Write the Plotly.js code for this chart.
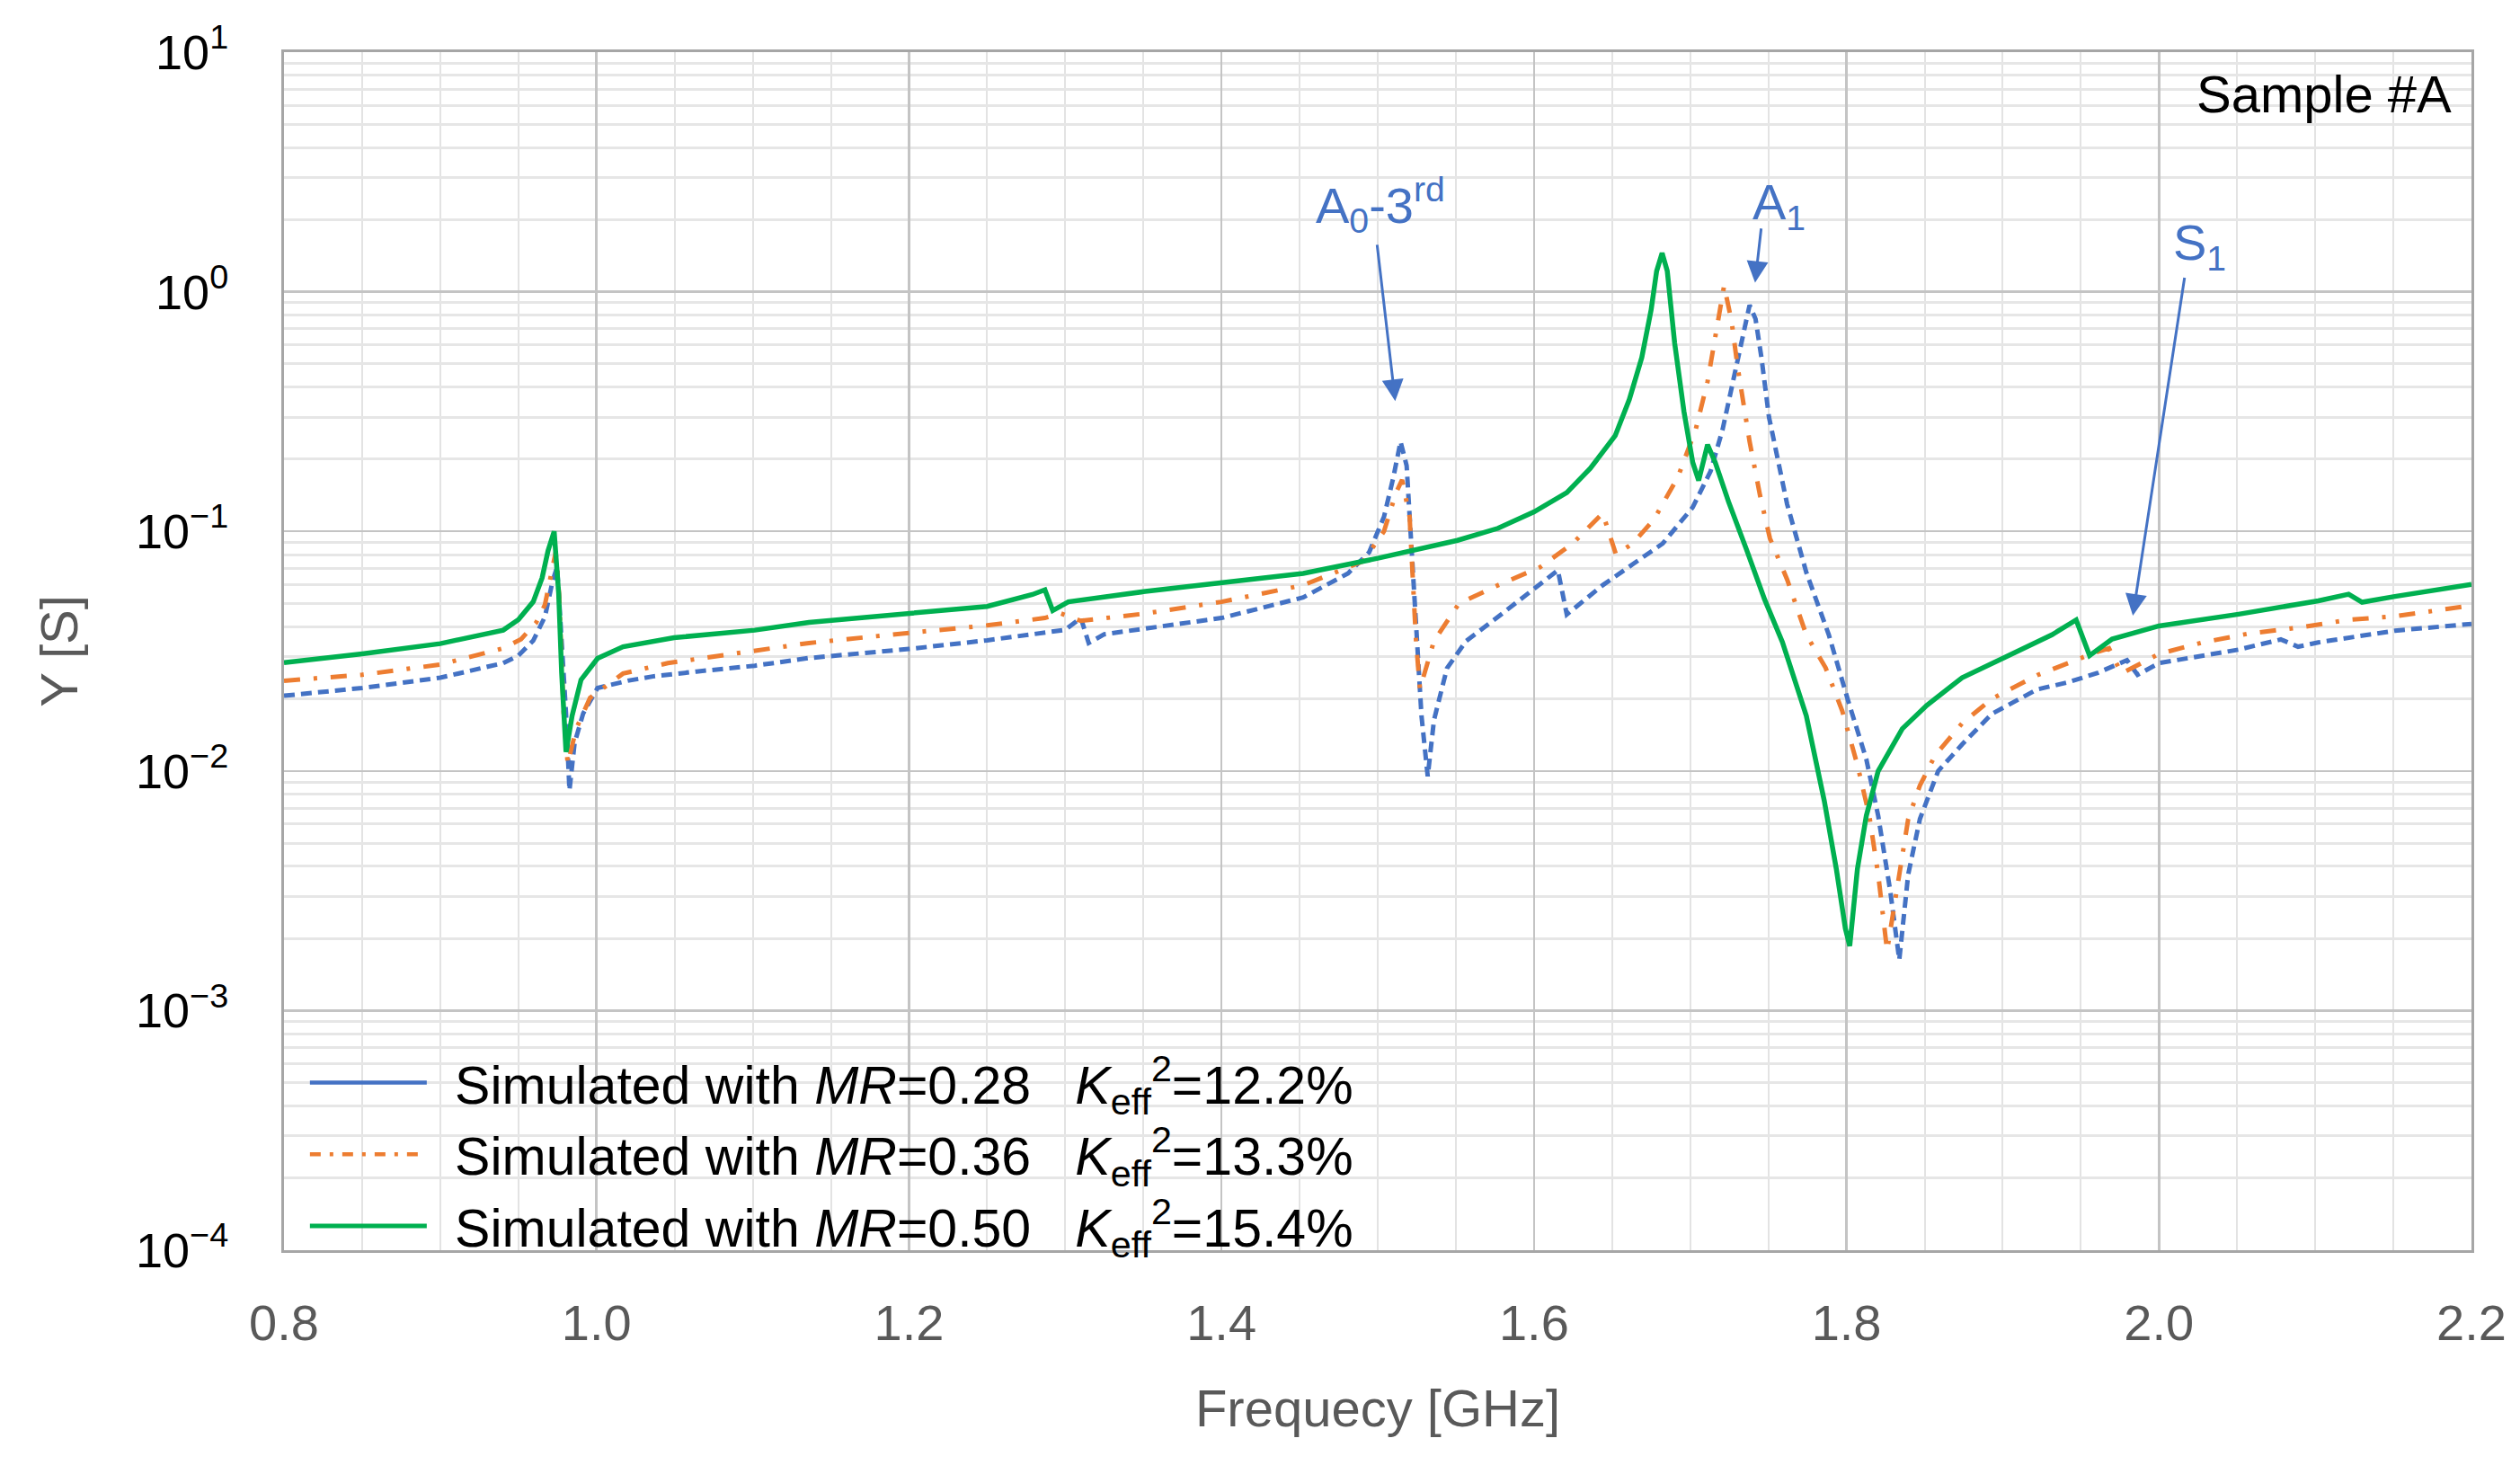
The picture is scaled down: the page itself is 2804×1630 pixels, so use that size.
<!DOCTYPE html>
<html>
<head>
<meta charset="utf-8">
<script src="https://cdn.plot.ly/plotly-3.0.1.min.js"></script>
<style>
  html, body { margin: 0; padding: 0; background: #ffffff; }
  #chart { width: 2804px; height: 1630px; }
</style>
</head>
<body>
<div id="chart"></div>
<script>
// ---------------- Data ----------------
// Frequency in GHz, admittance |Y| in S
var freqMR028 = [0.80, 0.85, 0.90, 0.9403, 0.95, 0.9595, 0.967, 0.9719, 0.9748, 0.977, 0.9805, 0.9827, 0.986, 0.9915, 1.0007,
  1.02, 1.036, 1.064, 1.1013, 1.136, 1.20, 1.25, 1.30, 1.31, 1.315, 1.325, 1.40, 1.4523, 1.481, 1.4945, 1.504, 1.510, 1.5146,
  1.5185, 1.5204, 1.5223, 1.5242, 1.528, 1.532, 1.536, 1.5443, 1.5566, 1.577, 1.60, 1.6153, 1.621, 1.644, 1.6632, 1.6824,
  1.7016, 1.713, 1.7207, 1.7265, 1.7322, 1.738, 1.7418, 1.7456, 1.7504, 1.762, 1.7743, 1.7887, 1.8012, 1.8127, 1.8203,
  1.828, 1.8338, 1.8395, 1.847, 1.8587, 1.874, 1.893, 1.922, 1.9412, 1.9604, 1.9795, 1.9863, 2.00, 2.051, 2.078, 2.089,
  2.102, 2.151, 2.20];
var yMR028 = [0.0206, 0.0222, 0.0245, 0.0282, 0.0303, 0.035, 0.044, 0.062, 0.071, 0.043, 0.0174, 0.0083, 0.0131, 0.0174, 0.0222,
  0.0238, 0.0248, 0.026, 0.0275, 0.0296, 0.0323, 0.0351, 0.0388, 0.0435, 0.0342, 0.0372, 0.0435, 0.053, 0.0668, 0.0818, 0.115, 0.168, 0.237,
  0.188, 0.115, 0.065, 0.040, 0.017, 0.0095, 0.0163, 0.0268, 0.0349, 0.044, 0.0572, 0.0688, 0.045, 0.0596, 0.0729, 0.089,
  0.126, 0.178, 0.266, 0.398, 0.596, 0.879, 0.77, 0.53, 0.30, 0.13, 0.0674, 0.037, 0.0195, 0.0112, 0.0065,
  0.00316, 0.00163, 0.0037, 0.0063, 0.010, 0.0129, 0.0173, 0.0219, 0.0234, 0.0256, 0.029, 0.0252, 0.0282, 0.0321, 0.0354, 0.033,
  0.0344, 0.0385, 0.0411];

var freqMR036 = [0.80, 0.85, 0.90, 0.9403, 0.9517, 0.9614, 0.967, 0.971, 0.9739, 0.976, 0.979, 0.9816, 0.987, 0.9959, 1.017,
  1.0457, 1.0956, 1.136, 1.20, 1.25, 1.287, 1.297, 1.31, 1.35, 1.40, 1.4523, 1.4906, 1.504, 1.5117, 1.5156, 1.5204, 1.5223,
  1.5245, 1.527, 1.536, 1.552, 1.577, 1.6038, 1.6248, 1.644, 1.6525, 1.6632, 1.6767, 1.692, 1.7035, 1.7111, 1.7169, 1.7217,
  1.7265, 1.7303, 1.738, 1.7447, 1.751, 1.762, 1.7743, 1.7866, 1.7973, 1.807, 1.8146, 1.8203, 1.826, 1.8338, 1.8395, 1.847,
  1.8567, 1.874, 1.893, 1.922, 1.9412, 1.958, 1.968, 1.976, 2.00, 2.028, 2.058, 2.09, 2.121, 2.152, 2.183, 2.20];
var yMR036 = [0.0238, 0.0252, 0.0278, 0.0325, 0.0355, 0.0416, 0.0494, 0.066, 0.082, 0.055, 0.0174, 0.0107, 0.015, 0.0202, 0.0255,
  0.0282, 0.0312, 0.0342, 0.0377, 0.0405, 0.0435, 0.0455, 0.0423, 0.0453, 0.0508, 0.0596, 0.075, 0.10, 0.145, 0.164, 0.115, 0.060,
  0.035, 0.022, 0.0349, 0.050, 0.0596, 0.0708, 0.089, 0.119, 0.080, 0.089, 0.112, 0.168, 0.266, 0.422, 0.688, 1.06,
  0.75, 0.487, 0.237, 0.141, 0.0936, 0.063, 0.037, 0.027, 0.0178, 0.0106, 0.0065, 0.0037, 0.00178, 0.0037, 0.0063, 0.0087,
  0.0116, 0.0158, 0.020, 0.0251, 0.0282, 0.031, 0.0325, 0.0255, 0.0308, 0.0344, 0.0375, 0.0397, 0.0427, 0.0443, 0.0473, 0.049];

var freqMR050 = [0.80, 0.85, 0.90, 0.9403, 0.95, 0.9595, 0.9652, 0.969, 0.9729, 0.9758, 0.9777, 0.9805, 0.9844, 0.9901, 1.0007,
  1.017, 1.0496, 1.1013, 1.136, 1.20, 1.25, 1.279, 1.287, 1.292, 1.302, 1.35, 1.40, 1.4523, 1.50, 1.551, 1.577, 1.60, 1.621,
  1.636, 1.652, 1.661, 1.669, 1.675, 1.6785, 1.682, 1.6853, 1.690, 1.696, 1.7016, 1.7054, 1.7111, 1.716, 1.7245, 1.736,
  1.7476, 1.759, 1.7743, 1.7858, 1.7935, 1.7993, 1.8021, 1.807, 1.8127, 1.8203, 1.8357, 1.8514, 1.874, 1.9018, 1.9315,
  1.947, 1.9556, 1.97, 2.00, 2.051, 2.102, 2.1214, 2.13, 2.151, 2.20];
var yMR050 = [0.0283, 0.0308, 0.034, 0.0387, 0.0428, 0.0508, 0.064, 0.083, 0.100, 0.055, 0.0257, 0.012, 0.017, 0.024, 0.0295,
  0.033, 0.036, 0.0387, 0.0417, 0.0453, 0.0486, 0.0545, 0.057, 0.0467, 0.0508, 0.056, 0.061, 0.0668, 0.0772, 0.0917, 0.103, 0.1205, 0.145,
  0.183, 0.251, 0.355, 0.531, 0.841, 1.22, 1.45, 1.22, 0.613, 0.316, 0.194, 0.163, 0.230, 0.194, 0.133, 0.084,
  0.052, 0.0345, 0.017, 0.0075, 0.0039, 0.0022, 0.00186, 0.0039, 0.0065, 0.010, 0.015, 0.0188, 0.0245, 0.0299, 0.037,
  0.0427, 0.0303, 0.0355, 0.0403, 0.0451, 0.0513, 0.0547, 0.0506, 0.0535, 0.060];

var seriesNames = [
  "\u00a0\u2006Simulated with <i>MR</i>=0.28\u00a0\u00a0 <i>K</i><sub>eff</sub><sup>2</sup>=12.2%",
  "\u00a0\u2006Simulated with <i>MR</i>=0.36\u00a0\u00a0 <i>K</i><sub>eff</sub><sup>2</sup>=13.3%",
  "\u00a0\u2006Simulated with <i>MR</i>=0.50\u00a0\u00a0 <i>K</i><sub>eff</sub><sup>2</sup>=15.4%"
];

var yTickVals = [1e-4, 1e-3, 1e-2, 1e-1, 1e0, 1e1];
var yTickText = ["10<sup>\u22124</sup>", "10<sup>\u22123</sup>", "10<sup>\u22122</sup>", "10<sup>\u22121</sup>", "10<sup>0</sup>", "10<sup>1</sup>"];

// Mode labels: [text, text-x, text-y, arrow-head-x, arrow-head-y, arrow-tail-x, arrow-tail-y]
var modeLabels = [
  ["A<sub>0</sub>-3<sup>rd</sup>", 1.502, 2.30, 1.5112, 0.35, 1.4995, 1.59],
  ["A<sub>1</sub>", 1.757, 2.30, 1.7415, 1.09, 1.7455, 1.86],
  ["S<sub>1</sub>", 2.026, 1.55, 1.9833, 0.0445, 2.0165, 1.16]
];

// ---------------- Styles ----------------
var BLUE = "#4472C4", ORANGE = "#ED7D31", GREEN = "#00B050";
var FONT = "Liberation Sans, Arial, Helvetica, sans-serif";

// minor grid values for log axis (2..9 per decade)
var minorY = [];
for (var e = -4; e < 1; e++) { for (var m = 2; m <= 9; m++) { minorY.push(m * Math.pow(10, e)); } }

var traces = [
  {x: freqMR028, y: yMR028, type: "scatter", mode: "lines", showlegend: false,
   line: {color: BLUE, width: 5, dash: "12px,7px"}},
  {x: freqMR036, y: yMR036, type: "scatter", mode: "lines", showlegend: false,
   line: {color: ORANGE, width: 5, dash: "18px,15px,4px,15px"}},
  {x: freqMR050, y: yMR050, type: "scatter", mode: "lines", showlegend: false,
   line: {color: GREEN, width: 5.5}},
  // legend keys (as in the reference legend)
  {x: [null], y: [null], type: "scatter", mode: "lines", name: seriesNames[0], line: {color: BLUE, width: 4.5}},
  {x: [null], y: [null], type: "scatter", mode: "lines", name: seriesNames[1], line: {color: ORANGE, width: 4.5, dash: "12px,10px,4px,10px"}},
  {x: [null], y: [null], type: "scatter", mode: "lines", name: seriesNames[2], line: {color: GREEN, width: 5}}
];

var annotations = [];
modeLabels.forEach(function (m) {
  annotations.push({x: m[1], y: Math.log10(m[2]), xref: "x", yref: "y", text: m[0], showarrow: false,
    font: {family: FONT, size: 56, color: BLUE}, xanchor: "center", yanchor: "middle"});
  annotations.push({x: m[3], y: Math.log10(m[4]), ax: m[5], ay: Math.log10(m[6]), xref: "x", yref: "y",
    axref: "x", ayref: "y", text: "", showarrow: true, arrowhead: 2, arrowsize: 1.6, arrowwidth: 3,
    arrowcolor: BLUE, standoff: 0, startstandoff: 0});
});
annotations.push({x: 0.9918, y: 0.965, xref: "paper", yref: "paper", text: "Sample #A", showarrow: false,
  font: {family: FONT, size: 58, color: "#000000"}, xanchor: "right", yanchor: "middle"});

var layout = {
  width: 2804, height: 1630,
  margin: {l: 316, r: 54, t: 58, b: 239},
  paper_bgcolor: "#ffffff", plot_bgcolor: "#ffffff",
  font: {family: FONT, size: 56, color: "#000000"},
  showlegend: true,
  legend: {x: 0.0098, y: -0.014, xanchor: "left", yanchor: "bottom", bgcolor: "rgba(0,0,0,0)",
    font: {family: FONT, size: 59, color: "#000000"}, itemwidth: 130, tracegroupgap: 0},
  xaxis: {
    range: [0.8, 2.2], tickmode: "linear", tick0: 0.8, dtick: 0.2, tickformat: ".1f",
    showgrid: true, gridcolor: "#c4c4c4", gridwidth: 2.5,
    minor: {dtick: 0.05, tick0: 0.8, showgrid: true, gridcolor: "#e3e3e3", gridwidth: 2},
    showline: true, linecolor: "#a6a6a6", linewidth: 3, mirror: true,
    ticks: "", ticklabelstandoff: 30, zeroline: false,
    tickfont: {family: FONT, size: 56, color: "#595959"},
    title: {text: "Frequecy [GHz]", font: {family: FONT, size: 58, color: "#595959"}, standoff: 45}
  },
  yaxis: {
    type: "log", range: [-4, 1], tickmode: "array", tickvals: yTickVals, ticktext: yTickText,
    showgrid: true, gridcolor: "#c4c4c4", gridwidth: 2.5,
    minor: {tickmode: "array", tickvals: minorY, showgrid: true, gridcolor: "#e6e6e6", gridwidth: 3},
    showline: true, linecolor: "#a6a6a6", linewidth: 3, mirror: true,
    ticks: "", ticklabelstandoff: 48, zeroline: false,
    tickfont: {family: FONT, size: 54, color: "#000000"},
    title: {text: "Y [S]", font: {family: FONT, size: 58, color: "#595959"}, standoff: 46}
  },
  annotations: annotations
};

Plotly.newPlot("chart", traces, layout, {displayModeBar: false, staticPlot: true});
</script>
</body>
</html>
